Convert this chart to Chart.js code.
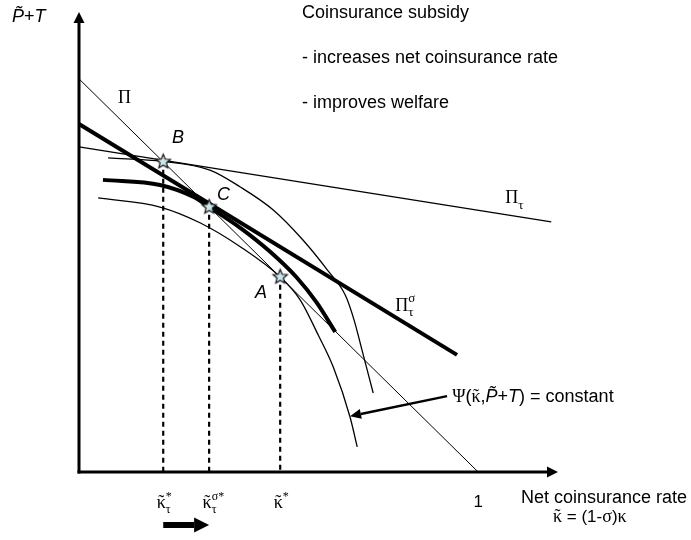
<!DOCTYPE html>
<html>
<head>
<meta charset="utf-8">
<script src="https://cdn.jsdelivr.net/npm/chart.js@4.4.1/dist/chart.umd.min.js"></script>
<style>
  body { margin: 0; background: #fff; }
  #wrap { width: 691px; height: 540px; }
</style>
</head>
<body>
<div id="wrap"><canvas id="diagram" width="691" height="540"></canvas></div>
<script>
// budget lines: x = net coinsurance rate, y = P~+T
const piX = [0, 1];
const piY = [1, 0];
const piTauX = [0, 1.183];
const piTauY = [0.827, 0.636];
const piSigmaX = [0, 0.947];
const piSigmaY = [0.885, 0.298];

// indifference curves Psi = constant
const icSigmaX = [0.060, 0.203, 0.286, 0.326, 0.404, 0.479, 0.546, 0.596, 0.642];
const icSigmaY = [0.743, 0.730, 0.700, 0.674, 0.621, 0.560, 0.494, 0.430, 0.356];
const icOuterX = [0.073, 0.211, 0.328, 0.404, 0.486, 0.561, 0.622, 0.667, 0.689, 0.709, 0.737];
const icOuterY = [0.799, 0.790, 0.768, 0.725, 0.667, 0.590, 0.514, 0.450, 0.387, 0.310, 0.201];
const icInnerX = [0.048, 0.203, 0.303, 0.404, 0.504, 0.554, 0.599, 0.637, 0.679, 0.697];
const icInnerY = [0.697, 0.674, 0.634, 0.573, 0.496, 0.438, 0.349, 0.267, 0.140, 0.064];

// equilibria B, C, A
const eqNames = ['B', 'C', 'A'];
const eqX = [0.211, 0.326, 0.504];
const eqY = [0.789, 0.674, 0.496];

// x-axis tick labels
const tickX = [0.211, 0.326, 0.504, 1];
const tickBase = ['\u03BA', '\u03BA', '\u03BA', '1'];
const tickSub = ['\u03C4', '\u03C4', '', ''];
const tickSup = ['*', '\u03C3*', '*', ''];

const pts = (xs, ys) => xs.map((x, i) => ({ x: x, y: ys[i] }));

function makeStar(r) {
  const c = document.createElement('canvas');
  const size = r * 2 + 4;
  c.width = c.height = size;
  const g = c.getContext('2d');
  g.beginPath();
  for (let i = 0; i < 10; i++) {
    const rad = i % 2 ? r * 0.45 : r;
    const a = -Math.PI / 2 + i * Math.PI / 5;
    g.lineTo(size / 2 + rad * Math.cos(a), size / 2 + rad * Math.sin(a));
  }
  g.closePath();
  g.fillStyle = '#c8e6ec';
  g.fill();
  g.strokeStyle = '#111';
  g.lineWidth = 1.2;
  g.stroke();
  return c;
}

const SANS = '"Liberation Sans", Arial, sans-serif';
const SERIF = '"Liberation Serif", "Times New Roman", serif';

function put(ctx, s, x, y, font) {
  ctx.font = font;
  ctx.fillText(s, x, y);
  return x + ctx.measureText(s).width;
}

// glyph with a spacing tilde centred above it
function tilded(ctx, s, x, y, font) {
  ctx.font = font;
  const w = ctx.measureText(s).width;
  ctx.fillText(s, x, y);
  const tw = ctx.measureText('\u02DC').width;
  ctx.fillText('\u02DC', x + (w - tw) / 2, y);
  return x + w;
}

function arrow(ctx, x0, y0, x1, y1, w, head, half) {
  const a = Math.atan2(y1 - y0, x1 - x0);
  const bx = x1 - head * Math.cos(a), by = y1 - head * Math.sin(a);
  ctx.lineWidth = w;
  ctx.beginPath(); ctx.moveTo(x0, y0); ctx.lineTo(bx, by); ctx.stroke();
  ctx.beginPath();
  ctx.moveTo(x1, y1);
  ctx.lineTo(bx + half * Math.sin(a), by - half * Math.cos(a));
  ctx.lineTo(bx - half * Math.sin(a), by + half * Math.cos(a));
  ctx.closePath(); ctx.fill();
}

const annotations = {
  id: 'annotations',
  afterDraw(chart) {
    const ctx = chart.ctx;
    const sx = chart.scales.x, sy = chart.scales.y;
    const px = v => sx.getPixelForValue(v);
    const py = v => sy.getPixelForValue(v);
    ctx.save();
    ctx.fillStyle = '#000';
    ctx.strokeStyle = '#000';
    ctx.textBaseline = 'alphabetic';
    ctx.textAlign = 'left';

    // axes
    const x0 = px(0), y0 = py(0);
    arrow(ctx, x0, y0 + 1.5, x0, py(sy.max), 3, 11, 5.5);
    arrow(ctx, x0 - 1.5, y0, px(sx.max), y0, 3, 11, 5.5);

    // axis titles
    let x = put(ctx, 'P\u0303', 12, 22, 'italic 18px ' + SANS);
    x = put(ctx, '+', x, 22, '18px ' + SANS);
    put(ctx, 'T', x, 22, 'italic 18px ' + SANS);
    ctx.textAlign = 'right';
    put(ctx, 'Net coinsurance rate', 687, 503, '18px ' + SANS);
    ctx.textAlign = 'left';
    x = tilded(ctx, '\u03BA', 553, 522, '18px ' + SERIF);
    x = put(ctx, ' = (1-', x, 522, '17px ' + SANS);
    x = put(ctx, '\u03C3', x, 522, '18px ' + SERIF);
    x = put(ctx, ')', x, 522, '17px ' + SANS);
    put(ctx, '\u03BA', x, 522, '18px ' + SERIF);

    // notes
    put(ctx, 'Coinsurance subsidy', 302, 18, '18px ' + SANS);
    put(ctx, '- increases net coinsurance rate', 302, 63, '18px ' + SANS);
    put(ctx, '- improves welfare', 302, 108, '18px ' + SANS);

    // line labels
    put(ctx, '\u03A0', px(0.098), py(0.939), '18px ' + SERIF);
    x = put(ctx, '\u03A0', px(1.068), py(0.684), '18px ' + SERIF);
    put(ctx, '\u03C4', x, py(0.684) + 6, '13px ' + SERIF);
    x = put(ctx, '\u03A0', px(0.792), py(0.410), '18px ' + SERIF);
    put(ctx, '\u03C3', x, py(0.410) - 9, '13px ' + SERIF);
    put(ctx, '\u03C4', x, py(0.410) + 5, '13px ' + SERIF);

    // equilibrium letters
    const letterPos = [[0.233, 0.837], [0.346, 0.692], [0.441, 0.443]];
    eqNames.forEach((n, i) => put(ctx, n, px(letterPos[i][0]), py(letterPos[i][1]), 'italic 18px ' + SANS));

    // Psi label + arrow to the curve
    const ly = py(0.178);
    x = put(ctx, '\u03A8', px(0.935), ly, '18px ' + SERIF);
    x = put(ctx, '(', x, ly, '18px ' + SANS);
    x = tilded(ctx, '\u03BA', x, ly, '18px ' + SERIF);
    x = put(ctx, ',', x, ly, '18px ' + SANS);
    x = put(ctx, 'P\u0303', x, ly, 'italic 18px ' + SANS);
    x = put(ctx, '+', x, ly, '18px ' + SANS);
    x = put(ctx, 'T', x, ly, 'italic 18px ' + SANS);
    put(ctx, ') = constant', x, ly, '18px ' + SANS);
    arrow(ctx, px(0.922), py(0.193), px(0.679), py(0.142), 2.5, 11, 5);

    // tick labels under the x axis
    tickX.forEach((v, i) => {
      const tx = px(v);
      if (tickBase[i] === '1') {
        ctx.textAlign = 'center';
        put(ctx, '1', tx, 507, '17px ' + SANS);
        ctx.textAlign = 'left';
        return;
      }
      ctx.font = '18px ' + SERIF;
      const w = ctx.measureText(tickBase[i]).width;
      const bx = tilded(ctx, tickBase[i], tx - w / 2 - 2, 508, '18px ' + SERIF);
      if (tickSup[i]) put(ctx, tickSup[i], bx, 500, '12px ' + SERIF);
      if (tickSub[i]) put(ctx, tickSub[i], bx, 513, '12px ' + SERIF);
    });

    // shift arrow from kappa_tau to kappa_tau^sigma
    arrow(ctx, px(tickX[0]), 525, px(tickX[1]), 525, 6, 15, 7.5);
    ctx.restore();
  }
};

const thin = { borderColor: '#000', borderWidth: 1, pointRadius: 0, showLine: true, order: 2 };
const thick = { borderColor: '#000', borderWidth: 4, pointRadius: 0, showLine: true, order: 2 };
const smooth = { cubicInterpolationMode: 'monotone' };

const datasets = [
  { label: 'equilibria', data: pts(eqX, eqY), pointStyle: makeStar(7.5), pointRadius: 8, showLine: false, order: 0 },
  Object.assign({ label: 'Pi', data: pts(piX, piY) }, thin),
  Object.assign({ label: 'Pi_tau', data: pts(piTauX, piTauY) }, thin, { borderWidth: 1.3 }),
  Object.assign({ label: 'Pi_tau_sigma', data: pts(piSigmaX, piSigmaY) }, thick),
  Object.assign({ label: 'IC sigma', data: pts(icSigmaX, icSigmaY) }, thick, smooth),
  Object.assign({ label: 'IC outer', data: pts(icOuterX, icOuterY) }, thin, smooth, { borderWidth: 1.3 }),
  Object.assign({ label: 'IC inner', data: pts(icInnerX, icInnerY) }, thin, smooth, { borderWidth: 1.3 })
];
eqX.forEach((v, i) => {
  datasets.push({
    label: 'drop ' + eqNames[i],
    data: [{ x: v, y: eqY[i] - 0.02 }, { x: v, y: 0 }],
    borderColor: '#000', borderWidth: 2.2, borderDash: [5, 4],
    pointRadius: 0, showLine: true, order: 1
  });
});

new Chart(document.getElementById('diagram'), {
  type: 'scatter',
  data: { datasets: datasets },
  options: {
    responsive: false,
    animation: false,
    events: [],
    clip: false,
    layout: { padding: { left: 79, right: 133, top: 12, bottom: 68 } },
    scales: {
      x: { type: 'linear', min: 0, max: 1.2, display: false },
      y: { type: 'linear', min: 0, max: 1.17, display: false }
    },
    plugins: { legend: { display: false }, tooltip: { enabled: false } }
  },
  plugins: [annotations]
});
</script>
</body>
</html>
